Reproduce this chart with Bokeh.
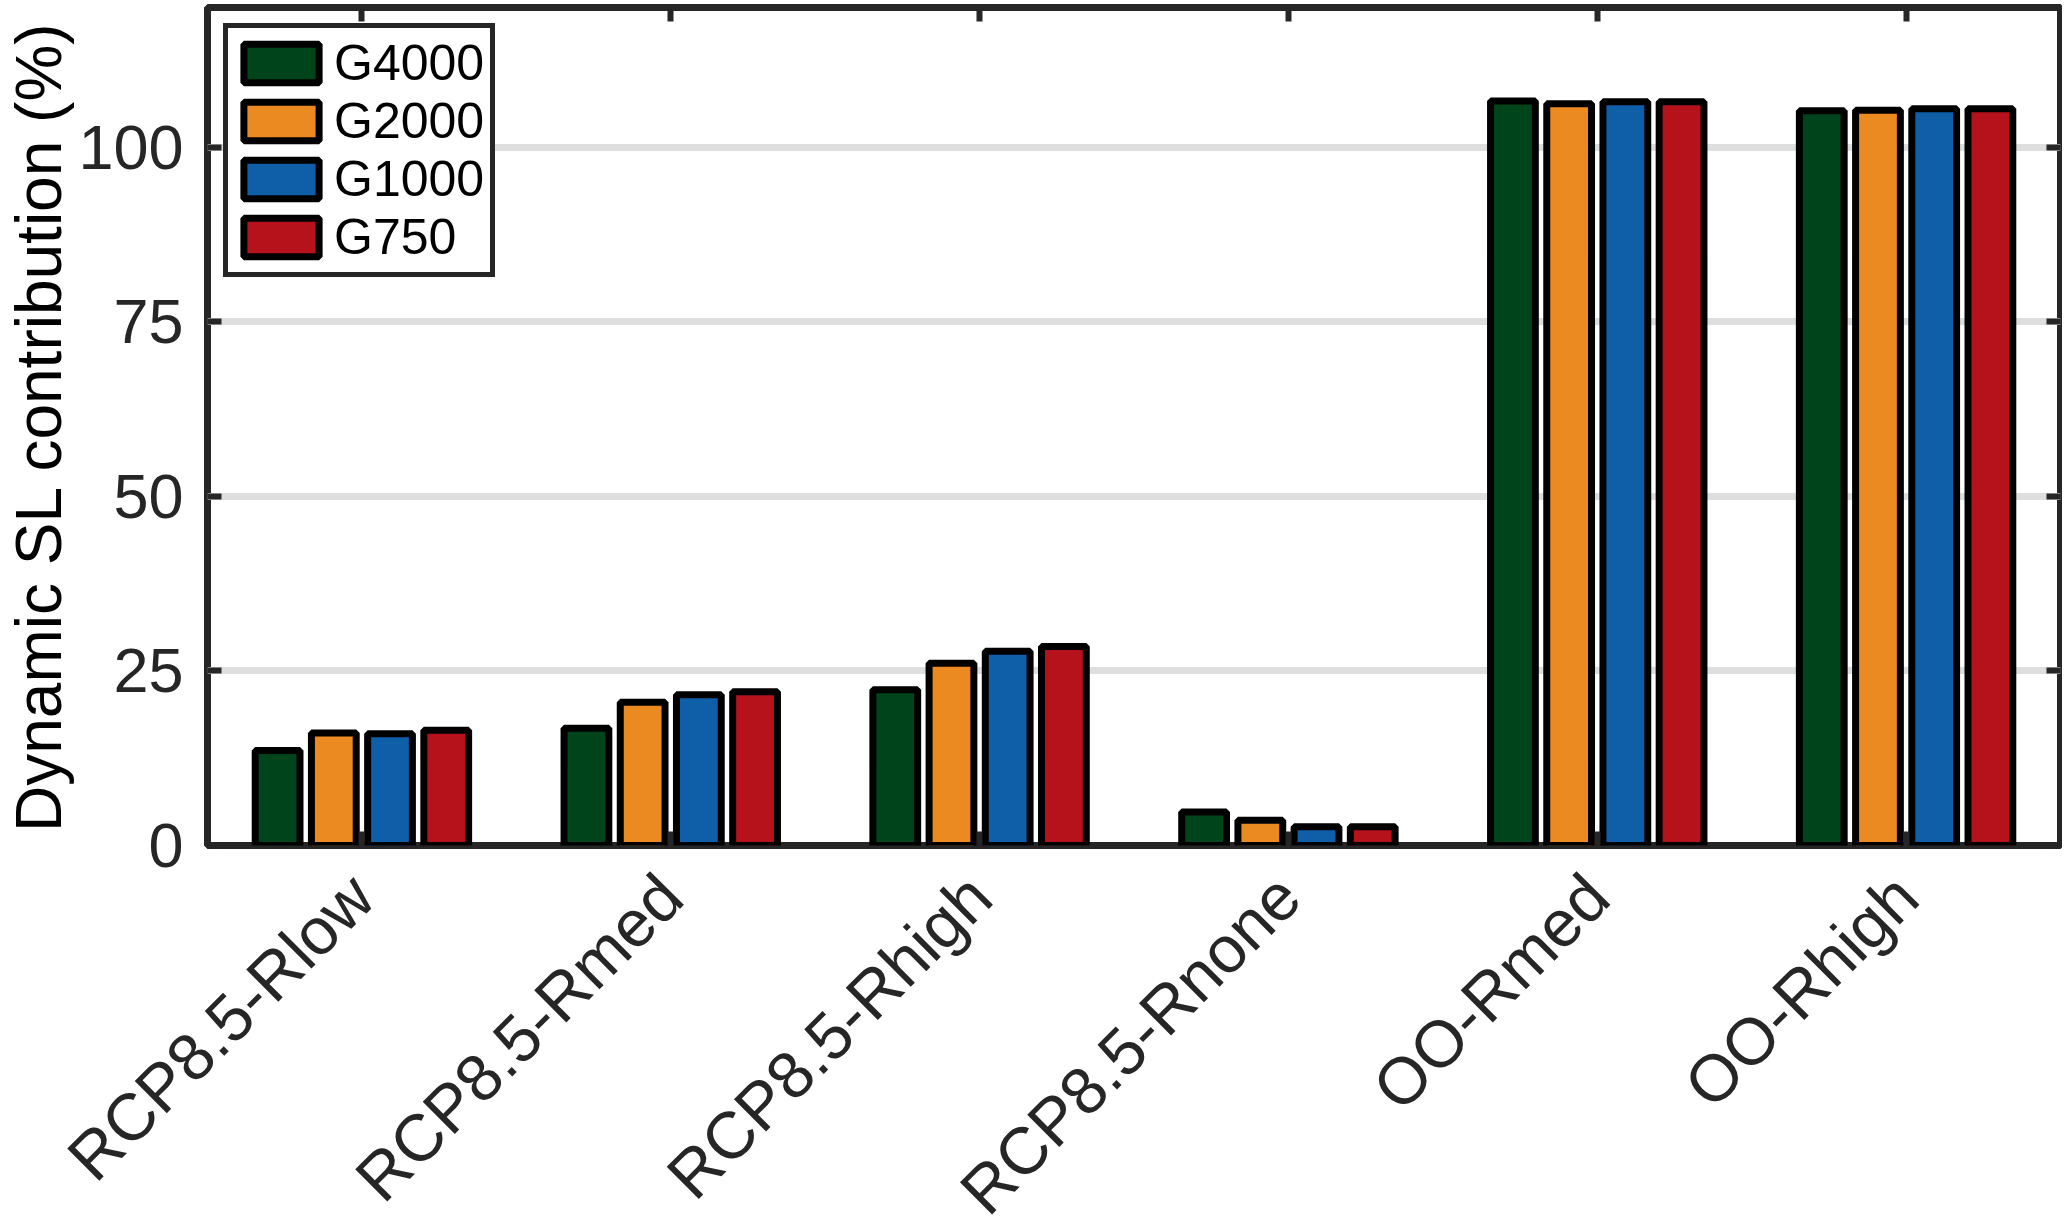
import math
from bokeh.plotting import figure
from bokeh.models import (FactorRange, Range1d, FixedTicker, LinearAxis,
                          CategoricalAxis, ColumnDataSource)
from bokeh.transform import dodge
from bokeh.embed import file_html
from bokeh.resources import INLINE

# ---- data ----
categories = ["RCP8.5-Rlow", "RCP8.5-Rmed", "RCP8.5-Rhigh", "RCP8.5-Rnone", "OO-Rmed", "OO-Rhigh"]
series_names = ["G4000", "G2000", "G1000", "G750"]
g4000 = [13.6, 16.8, 22.3, 4.8, 106.6, 105.2]
g2000 = [16.1, 20.5, 26.1, 3.6, 106.2, 105.3]
g1000 = [16.0, 21.6, 27.8, 2.7, 106.5, 105.5]
g750 = [16.5, 22.0, 28.5, 2.7, 106.5, 105.5]
y_ticks = [0, 25, 50, 75, 100]
grid_ticks = [25, 50, 75, 100]

colors = ["#00441B", "#EC8A22", "#0F5EA8", "#B5121B"]
offsets = [-0.273, -0.091, 0.091, 0.273]

src = ColumnDataSource(dict(cat=categories, G4000=g4000, G2000=g2000,
                            G1000=g1000, G750=g750))

FONT = "Liberation Sans"
DARK = "#262626"

p = figure(x_range=FactorRange(factors=categories, range_padding=0),
           y_range=Range1d(0, 120),
           frame_width=1853, frame_height=838,
           output_backend="svg", toolbar_location=None,
           min_border_left=196, min_border_right=2, min_border_top=7,
           min_border_bottom=350, background_fill_color="white",
           border_fill_color="white")

for name, col, off in zip(series_names, colors, offsets):
    p.vbar(x=dodge("cat", off, range=p.x_range), top=name, width=0.145,
           source=src, fill_color=col, line_color="black", line_width=7,
           legend_label=name)

# grid
p.xgrid.visible = False
p.ygrid.ticker = FixedTicker(ticks=grid_ticks)
p.ygrid.grid_line_color = "#DEDEDE"
p.ygrid.grid_line_width = 7

# frame
p.outline_line_color = DARK
p.outline_line_width = 7
p.outline_line_alpha = 1

# y axis
ya = p.yaxis[0]
ya.ticker = FixedTicker(ticks=y_ticks)
ya.axis_label = "Dynamic SL contribution (%)"
ya.axis_label_text_font = FONT
ya.axis_label_text_font_size = "64px"
ya.axis_label_text_font_style = "normal"
ya.axis_label_text_color = "black"
ya.axis_label_standoff = 0
ya.major_label_text_font = FONT
ya.major_label_text_font_size = "63px"
ya.major_label_text_color = DARK
ya.major_label_standoff = 24
ya.axis_line_color = None
ya.major_tick_in = 14
ya.major_tick_out = 0
ya.major_tick_line_width = 6
ya.major_tick_line_color = DARK
ya.minor_tick_line_color = None

# x axis
xa = p.xaxis[0]
xa.major_label_orientation = math.pi / 4
xa.major_label_text_font = FONT
xa.major_label_text_font_size = "66px"
xa.major_label_text_color = DARK
xa.major_label_standoff = 40
xa.axis_line_color = None
xa.major_tick_in = 14
xa.major_tick_out = 0
xa.major_tick_line_width = 6
xa.major_tick_line_color = DARK

# right axis (ticks only, labels not drawn)
ra = LinearAxis(ticker=FixedTicker(ticks=y_ticks))
ra.major_label_text_font_size = "1px"
ra.major_label_text_color = None
ra.major_label_standoff = 0
ra.axis_line_color = None
ra.major_tick_in = 14
ra.major_tick_out = 0
ra.major_tick_line_width = 6
ra.major_tick_line_color = DARK
ra.minor_tick_line_color = None
p.add_layout(ra, "right")

# top axis (ticks only, labels not drawn)
ta = CategoricalAxis()
ta.major_label_text_font_size = "1px"
ta.major_label_text_color = None
ta.major_label_standoff = 0
ta.axis_line_color = None
ta.major_tick_in = 14
ta.major_tick_out = 0
ta.major_tick_line_width = 6
ta.major_tick_line_color = DARK
p.add_layout(ta, "above")

# legend
lg = p.legend[0]
lg.location = "top_left"
lg.margin = 16
lg.padding = 6
lg.spacing = 0
lg.glyph_width = 94
lg.glyph_height = 48
lg.label_standoff = 6
lg.label_text_font = FONT
lg.label_text_font_size = "50px"
lg.label_text_color = "black"
lg.label_height = 48
lg.border_line_color = DARK
lg.border_line_width = 5
lg.border_line_alpha = 1
lg.background_fill_color = "white"
lg.background_fill_alpha = 1

open("out.html", "w").write(file_html(p, INLINE))
